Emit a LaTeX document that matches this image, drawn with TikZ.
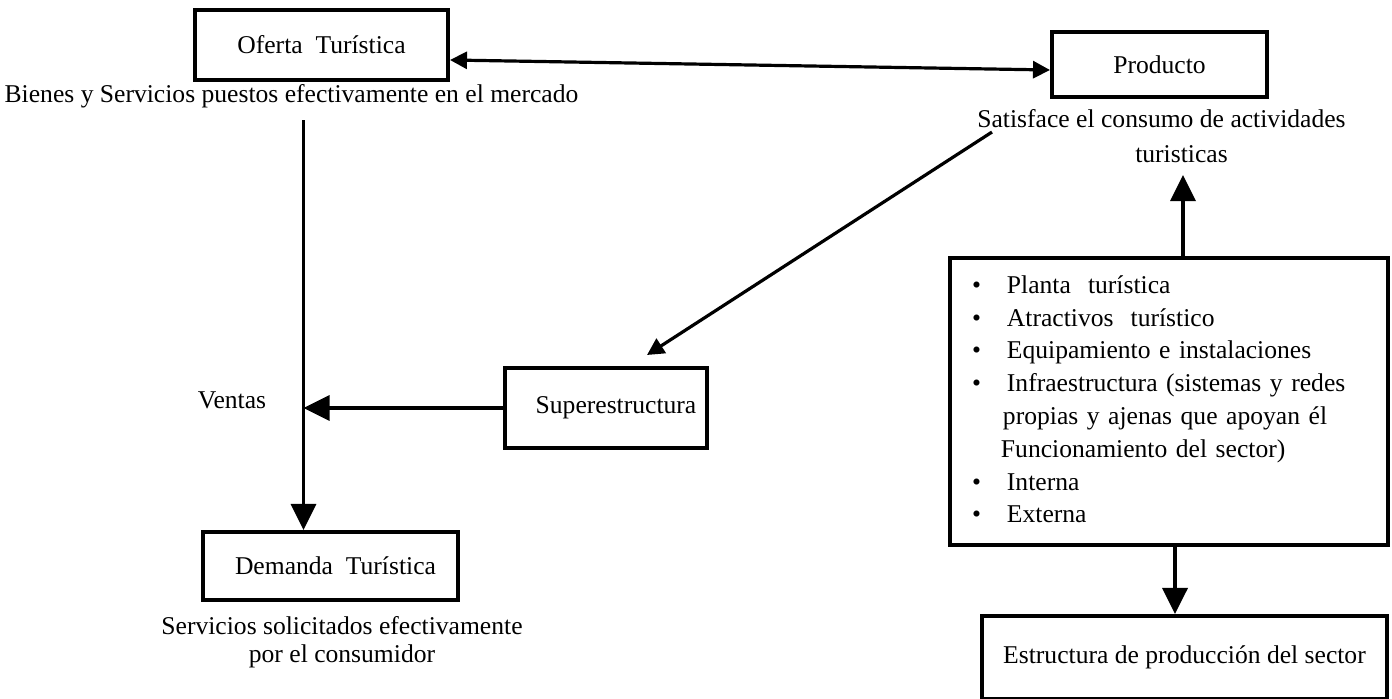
\documentclass[tikz,border=0pt]{standalone}
\usepackage{fontspec}
\setmainfont{Liberation Serif}
\usetikzlibrary{positioning, arrows.meta}

\begin{document}
\begin{tikzpicture}[font=\fontsize{12.8}{16.4}\selectfont,
	box/.style={draw, line width=2pt, inner sep=0pt, align=center},
	txt/.style={inner sep=0pt, align=center},
	arrow/.style={-{Triangle[length=8.5pt, width=8.5pt]}, line width=1.6pt},
	bigarrow/.style={-{Triangle[length=13pt, width=12.5pt]}, line width=1.8pt},
	dblarrow/.style={{Triangle[length=8.5pt, width=8.5pt]}-{Triangle[length=8.5pt, width=8.5pt]}, line width=1.6pt}]
	
	\useasboundingbox (0,0) rectangle (696pt,-349.5pt);
	
	% Cajas principales
	\node[box, minimum width=126.5pt, minimum height=35pt] (oferta) at (160.75pt,-22.5pt) {Oferta\ \ Turística};
	\node[box, minimum width=107.5pt, minimum height=32.5pt] (producto) at (579.75pt,-32.25pt) {Producto};
	\node[box, minimum width=101pt, minimum height=40pt] (super) at (303pt,-204pt) {\hspace*{10pt}Superestructura};
	\node[box, minimum width=127.5pt, minimum height=34pt] (demanda) at (165.25pt,-283pt) {\hspace*{5pt}Demanda\ \ Turística};
	
	% Textos bajo las cajas
	\node[txt, below=1pt of oferta, xshift=-15pt] (bienes) {Bienes y Servicios puestos efectivamente en el mercado};
	\node[txt, below=5pt of producto, xshift=1pt, font=\fontsize{12.8}{17.5}\selectfont] (satisface) {Satisface el consumo de actividades\\\hspace*{20pt}turisticas};
	\node[txt, below=7pt of demanda, xshift=5.75pt, font=\fontsize{12.8}{14}\selectfont] (servicios) {Servicios solicitados efectivamente\\por el consumidor};
	\node[txt] (ventas) at (116pt,-200pt) {Ventas};
	
	% Lista de la estructura
	\node[box, minimum width=219pt, minimum height=143.5pt, text width=197pt, inner xsep=11pt, align=left] (lista) at (584.5pt,-200.75pt) {%
		\begin{tabular}{@{}l@{\hspace{13pt}}l@{}}
			\textbullet & Planta\ \ turística\\
			\textbullet & Atractivos\ \ turístico\\
			\textbullet & Equipamiento e instalaciones\\
			\textbullet & Infraestructura (sistemas y redes\\
			& \hspace*{-2pt}propias y ajenas que apoyan él\\
			& \hspace*{-3pt}Funcionamiento del sector)\\
			\textbullet & Interna\\
			\textbullet & Externa
		\end{tabular}};
	\node[box, below=33.5pt of lista, xshift=7.75pt, minimum width=202.5pt, minimum height=41.5pt] (estructura) {Estructura de producción del sector};
	
	% Conexiones
	\draw[dblarrow] ([yshift=-7.5pt]oferta.east) -- ([yshift=-2.75pt]producto.west);
	\draw[bigarrow] ([xshift=6pt,yshift=-6pt]bienes.south) -- ([xshift=6pt]bienes.south |- demanda.north);
	\draw[bigarrow] (super.west) -- ([xshift=6pt]bienes.south |- super.west);
	\draw[arrow] ([xshift=7.5pt,yshift=2pt]satisface.west) -- ([xshift=20.5pt,yshift=5.5pt]super.north);
	\draw[bigarrow, shorten >=6pt] ([xshift=7pt]lista.north) -- ([xshift=7pt]lista.north |- satisface.south);
	\draw[bigarrow] ([xshift=3pt]lista.south) -- ([xshift=3pt]lista.south |- estructura.north);
\end{tikzpicture}
\end{document}
